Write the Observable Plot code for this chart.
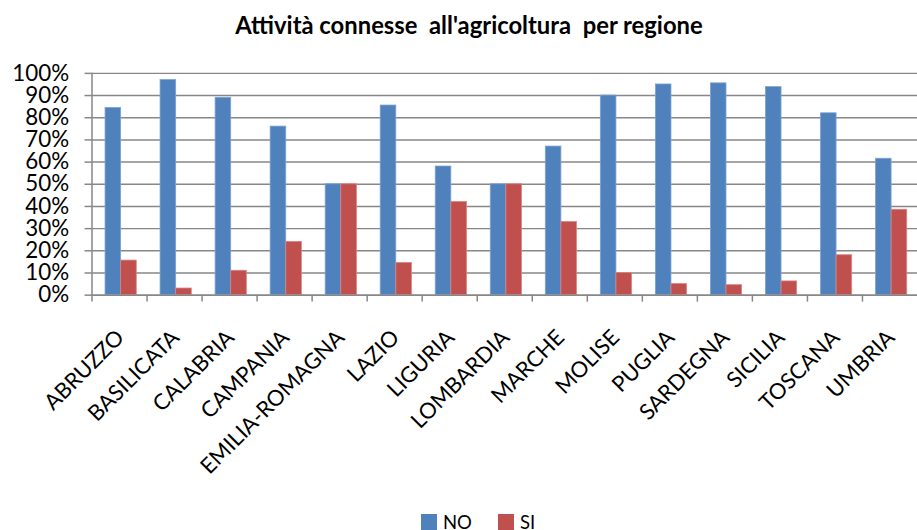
<!DOCTYPE html>
<html>
<head>
<meta charset="utf-8">
<script src="https://cdn.jsdelivr.net/npm/d3@7"></script>
<script src="https://cdn.jsdelivr.net/npm/@observablehq/plot@0.6"></script>
<style>
  html, body { margin: 0; padding: 0; background: #fff; overflow: hidden; width: 917px; height: 530px; }
  #title { font-family: Lato, "Noto Sans", sans-serif; font-weight: bold; font-size: 23.8px; line-height: 24px;
           height: 37px; padding-top: 13px; width: 938px; text-align: center; white-space: pre; color: #000; }
  #chart svg { display: block; }
  #legend { font-family: Lato, "Noto Sans", sans-serif; font-size: 18.5px; line-height: 20px; height: 20px;
            display: flex; align-items: center; padding-left: 421px; padding-top: 4px; color: #000; }
  .sw { display: inline-block; width: 16px; height: 16px; margin-right: 6px; }
  .item { display: flex; align-items: center; margin-right: 26px; }
</style>
</head>
<body>
<div id="title">Attività connesse  all'agricoltura  per regione</div>
<div id="chart"></div>
<div id="legend"></div>
<script>
const regions = ["ABRUZZO","BASILICATA","CALABRIA","CAMPANIA","EMILIA-ROMAGNA","LAZIO","LIGURIA","LOMBARDIA","MARCHE","MOLISE","PUGLIA","SARDEGNA","SICILIA","TOSCANA","UMBRIA"];
const seriesNames = ["NO", "SI"];
const noValues = [0.844, 0.97, 0.89, 0.76, 0.50, 0.855, 0.58, 0.50, 0.67, 0.90, 0.95, 0.955, 0.938, 0.82, 0.615];
const siValues = [0.156, 0.03, 0.11, 0.24, 0.50, 0.145, 0.42, 0.50, 0.33, 0.10, 0.05, 0.045, 0.062, 0.18, 0.385];
const yTicks = [0, 0.1, 0.2, 0.3, 0.4, 0.5, 0.6, 0.7, 0.8, 0.9, 1.0];
const colors = ["#4F81BD", "#C0504D"];

const noData = regions.map((r, i) => ({region: r, series: "NO", value: noValues[i]}));
const siData = regions.map((r, i) => ({region: r, series: "SI", value: siValues[i]}));

const W = 922, ML = 92, MR = 0;
const step = (W - ML - MR) / regions.length;
const grid = "#878787";

const chart = Plot.plot({
  width: W, height: 460,
  marginLeft: ML, marginRight: MR, marginTop: 23, marginBottom: 214,
  style: {fontFamily: "Lato, 'Noto Sans', sans-serif", color: "#000", background: "#fff"},
  x: {domain: regions, padding: 0, axis: null, label: null, round: false},
  y: {domain: [0, 1], axis: null, label: null},
  marks: [
    Plot.gridY({ticks: yTicks, stroke: grid, strokeOpacity: 1, strokeWidth: 1.5}),
    Plot.axisY({ticks: yTicks, tickFormat: d3.format(".0%"), tickSize: 7, tickPadding: 16, fontSize: 22.5, stroke: grid, strokeWidth: 1.5, label: null}),
    Plot.frame({anchor: "left", stroke: grid, strokeWidth: 1.5}),
    Plot.barY(noData, {x: "region", y: "value", fill: colors[0], stroke: "#7EA3D2", strokeWidth: 0.8, insetLeft: 13.6, insetRight: step - 13.6 - 15.7}),
    Plot.barY(siData, {x: "region", y: "value", fill: colors[1], stroke: "#D88583", strokeWidth: 0.8, insetLeft: 13.6 + 15.7, insetRight: step - 13.6 - 31.4}),
    Plot.ruleY([0], {stroke: grid, strokeWidth: 1.5}),
    Plot.axisX({tickSize: 7, tickFormat: () => "", dx: -step / 2, stroke: grid, strokeWidth: 1.5, label: null}),
    Plot.axisX({tickSize: 0, tickRotate: -45, fontSize: 22, tickPadding: 39, dx: 1, label: null})
  ]
});
document.getElementById("chart").appendChild(chart);

const legend = document.getElementById("legend");
seriesNames.forEach((s, i) => {
  const item = document.createElement("span");
  item.className = "item";
  const sw = document.createElement("span");
  sw.className = "sw";
  sw.style.background = colors[i];
  item.appendChild(sw);
  item.appendChild(document.createTextNode(s));
  legend.appendChild(item);
});
</script>
</body>
</html>
